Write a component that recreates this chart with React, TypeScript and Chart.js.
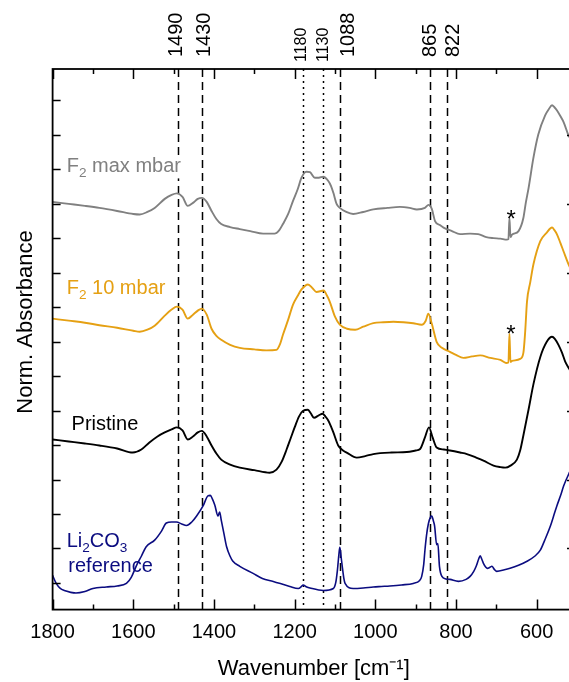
import React, { useEffect, useRef } from "react";
import { Chart, registerables } from "chart.js";

Chart.register(...registerables);

const FONT = "'Liberation Sans', Arial, Helvetica, sans-serif";

// ---------- data ----------
const grayWn = [1800, 1760, 1720, 1684, 1640, 1600, 1584, 1565, 1547, 1522, 1505, 1492, 1478, 1465, 1452, 1440, 1430, 1418, 1406, 1394, 1382, 1360, 1336, 1310, 1278, 1250, 1238, 1229, 1216, 1204, 1192, 1183, 1171, 1162, 1150, 1140, 1129, 1117, 1110, 1104, 1096, 1088, 1072, 1055, 1030, 1005, 970, 939, 915, 897, 877, 868, 860, 852, 840, 831, 810, 790, 765, 745, 725, 707, 690, 674, 670, 667.5, 665, 661, 645, 633, 627, 620, 608, 596, 579, 570, 562, 556, 550, 541, 533, 521, 505];
const grayVal = [4.05, 4.03, 4.01, 3.99, 3.96, 3.93, 3.925, 3.95, 3.99, 4.08, 4.12, 4.135, 4.10, 4.01, 4.04, 4.08, 4.09, 4.05, 3.96, 3.88, 3.83, 3.80, 3.78, 3.76, 3.735, 3.735, 3.77, 3.83, 3.93, 4.06, 4.18, 4.29, 4.35, 4.345, 4.29, 4.29, 4.30, 4.26, 4.21, 4.14, 4.03, 3.99, 3.95, 3.93, 3.95, 3.975, 3.99, 4.00, 3.99, 3.975, 3.99, 4.02, 3.98, 3.86, 3.82, 3.795, 3.76, 3.73, 3.735, 3.73, 3.70, 3.69, 3.685, 3.675, 3.68, 3.89, 3.70, 3.725, 3.76, 3.89, 4.04, 4.19, 4.49, 4.72, 4.91, 4.97, 5.01, 4.99, 4.96, 4.90, 4.84, 4.71, 4.60];

const orangeWn = [1800, 1760, 1720, 1684, 1640, 1600, 1584, 1565, 1547, 1522, 1505, 1492, 1478, 1465, 1452, 1440, 1430, 1418, 1406, 1394, 1382, 1360, 1336, 1300, 1270, 1245, 1236, 1229, 1216, 1204, 1192, 1183, 1167, 1155, 1146, 1128, 1120, 1113, 1100, 1088, 1070, 1050, 1030, 1005, 980, 955, 930, 906, 885, 875, 868.6, 860, 848, 835, 815, 800, 782, 760, 740, 715, 690, 676, 670, 667.5, 665, 661, 641, 633, 628.5, 624, 616, 608, 591, 575, 562, 556, 550, 541, 533.5, 521, 505];
const orangeVal = [2.89, 2.87, 2.85, 2.825, 2.80, 2.77, 2.76, 2.78, 2.82, 2.92, 2.98, 3.01, 2.98, 2.89, 2.93, 2.97, 2.99, 2.93, 2.79, 2.72, 2.68, 2.63, 2.60, 2.585, 2.575, 2.58, 2.64, 2.73, 2.88, 3.03, 3.12, 3.18, 3.23, 3.19, 3.155, 3.17, 3.12, 3.06, 2.91, 2.83, 2.79, 2.78, 2.81, 2.845, 2.855, 2.86, 2.855, 2.845, 2.83, 2.87, 2.94, 2.84, 2.66, 2.60, 2.56, 2.53, 2.50, 2.515, 2.525, 2.50, 2.48, 2.45, 2.455, 2.74, 2.46, 2.47, 2.49, 2.55, 2.76, 3.06, 3.25, 3.43, 3.66, 3.745, 3.795, 3.77, 3.73, 3.64, 3.56, 3.43, 3.30];

const blackWn = [1800, 1760, 1720, 1684, 1640, 1601, 1580, 1560, 1540, 1522, 1505, 1492, 1478, 1465, 1452, 1440, 1430, 1418, 1406, 1394, 1382, 1360, 1336, 1300, 1262, 1245, 1232, 1220, 1210, 1200, 1189, 1179, 1167, 1160, 1152, 1140, 1131, 1124, 1117, 1110, 1104, 1092, 1080, 1071, 1046, 1025, 1005, 960, 922, 900, 889, 877, 867, 858, 848, 830, 815, 790, 773, 750, 732, 707, 690, 678, 665, 649, 641, 633, 620, 608, 591, 575, 562, 555, 546, 537, 529, 519, 505];
const blackVal = [1.69, 1.67, 1.65, 1.63, 1.60, 1.56, 1.59, 1.66, 1.72, 1.76, 1.79, 1.81, 1.78, 1.69, 1.72, 1.76, 1.775, 1.72, 1.63, 1.55, 1.49, 1.44, 1.41, 1.385, 1.36, 1.39, 1.47, 1.59, 1.70, 1.81, 1.92, 1.975, 1.985, 1.95, 1.905, 1.93, 1.945, 1.92, 1.88, 1.82, 1.76, 1.63, 1.58, 1.56, 1.51, 1.525, 1.545, 1.56, 1.565, 1.58, 1.595, 1.71, 1.81, 1.71, 1.61, 1.59, 1.58, 1.56, 1.545, 1.51, 1.48, 1.43, 1.415, 1.41, 1.43, 1.49, 1.58, 1.73, 1.99, 2.24, 2.51, 2.66, 2.71, 2.69, 2.63, 2.55, 2.46, 2.39, 2.28];

const blueWn = [1800, 1791, 1781, 1771, 1742, 1720, 1700, 1667, 1640, 1617, 1605, 1593, 1580, 1568, 1547, 1530, 1518, 1505, 1493, 1480, 1468, 1455, 1443, 1427, 1415, 1409, 1404, 1398, 1390, 1386, 1382, 1375, 1369, 1360, 1353, 1336, 1303, 1280, 1253, 1212, 1191, 1183, 1179, 1170, 1162, 1129, 1104, 1098, 1094, 1090, 1088, 1085, 1082, 1078, 1075, 1055, 1030, 1005, 985, 964, 935, 906, 890, 885, 880, 877, 873, 868.6, 863, 860, 856, 853, 848, 845, 841, 835, 825, 815, 794, 775, 765, 756, 750, 744, 740, 736, 732, 726, 722, 716, 711, 705, 699, 680, 666, 645, 624, 605, 591, 580, 566, 558, 550, 541, 533, 519, 505];
const blueVal = [0.34, 0.26, 0.21, 0.19, 0.165, 0.18, 0.21, 0.225, 0.235, 0.26, 0.32, 0.43, 0.53, 0.625, 0.69, 0.78, 0.86, 0.87, 0.87, 0.85, 0.835, 0.87, 0.93, 1.03, 1.13, 1.135, 1.10, 1.04, 0.93, 0.97, 0.89, 0.75, 0.63, 0.53, 0.48, 0.43, 0.36, 0.31, 0.28, 0.23, 0.21, 0.23, 0.245, 0.225, 0.215, 0.19, 0.21, 0.27, 0.39, 0.56, 0.62, 0.53, 0.43, 0.31, 0.26, 0.21, 0.215, 0.225, 0.23, 0.235, 0.245, 0.26, 0.29, 0.33, 0.45, 0.59, 0.74, 0.85, 0.92, 0.93, 0.88, 0.83, 0.645, 0.655, 0.43, 0.33, 0.305, 0.30, 0.28, 0.30, 0.33, 0.38, 0.43, 0.50, 0.535, 0.50, 0.46, 0.42, 0.41, 0.42, 0.43, 0.40, 0.38, 0.395, 0.41, 0.44, 0.48, 0.53, 0.59, 0.69, 0.83, 0.93, 1.03, 1.13, 1.23, 1.36, 1.47];

// reference band positions (cm-1) and their labels
const refLines = [1490, 1430, 1180, 1130, 1088, 865, 822];
const refLabels = ["1490", "1430", "1180", "1130", "1088", "865", "822"];
const refDotted = [false, false, true, true, false, false, false];

// axis ticks
const xMajorTicks = [1800, 1600, 1400, 1200, 1000, 800, 600];
const xMinorTicks = [1700, 1500, 1300, 1100, 900, 700];
const yTickStart = 0.265;
const yTickStep = 0.3423;
const yTickCount = 15;

// ---------- layout / style ----------
const refLabelShift = [-2.6, 0.6, -2, -1, 7, -0.6, 5];
const GRAY = "#808080";
const ORANGE = "#E5A013";
const BLACK = "#000000";
const NAVY = "#0B0C80";

type Part = { t: string; sub?: boolean };

function drawRich(ctx: CanvasRenderingContext2D, parts: Part[], x: number, y: number, size: number, color: string, bg: boolean) {
  ctx.save();
  let w = 0;
  parts.forEach((p) => {
    ctx.font = `${p.sub ? size * 0.68 : size}px ${FONT}`;
    w += ctx.measureText(p.t).width;
  });
  if (bg) {
    ctx.fillStyle = "#ffffff";
    ctx.fillRect(x - 1, y - size * 0.8, w + 2, size * 1.1);
  }
  ctx.fillStyle = color;
  ctx.textBaseline = "alphabetic";
  ctx.textAlign = "left";
  let cx = x;
  parts.forEach((p) => {
    const s = p.sub ? size * 0.68 : size;
    ctx.font = `${s}px ${FONT}`;
    ctx.fillText(p.t, cx, p.sub ? y + size * 0.25 : y);
    cx += ctx.measureText(p.t).width;
  });
  ctx.restore();
}

const overlayPlugin = {
  id: "overlay",
  beforeDatasetsDraw(chart: any) {
    const { ctx, chartArea: a, scales } = chart;
    const x = scales.x;
    ctx.save();
    ctx.strokeStyle = "#000";
    ctx.lineWidth = 1.5;
    refLines.forEach((w, i) => {
      const px = Math.round(x.getPixelForValue(w)) + 0.5;
      ctx.setLineDash(refDotted[i] ? [2, 4] : [8, 5]);
      ctx.beginPath();
      ctx.moveTo(px, a.top);
      ctx.lineTo(px, a.bottom);
      ctx.stroke();
    });
    ctx.restore();
  },
  afterDatasetsDraw(chart: any) {
    const { ctx, chartArea: a, scales } = chart;
    const x = scales.x;
    const y = scales.y;
    ctx.save();

    // series labels
    drawRich(ctx, [{ t: "F" }, { t: "2", sub: true }, { t: " max mbar" }], x.getPixelForValue(1765), y.getPixelForValue(4.343), 20, GRAY, true);
    drawRich(ctx, [{ t: "F" }, { t: "2", sub: true }, { t: " 10 mbar" }], x.getPixelForValue(1765), y.getPixelForValue(3.133), 20, ORANGE, true);
    drawRich(ctx, [{ t: "Pristine" }], x.getPixelForValue(1753), y.getPixelForValue(1.787), 20, BLACK, false);
    drawRich(ctx, [{ t: "Li" }, { t: "2", sub: true }, { t: "CO" }, { t: "3", sub: true }], x.getPixelForValue(1765), y.getPixelForValue(0.62), 20, NAVY, false);
    drawRich(ctx, [{ t: "reference" }], x.getPixelForValue(1761), y.getPixelForValue(0.377), 20, NAVY, false);

    // asterisks marking artefacts
    ctx.fillStyle = "#000";
    ctx.font = `24px ${FONT}`;
    ctx.textAlign = "center";
    ctx.textBaseline = "alphabetic";
    ctx.fillText("*", x.getPixelForValue(663), y.getPixelForValue(3.805));
    ctx.fillText("*", x.getPixelForValue(664), y.getPixelForValue(2.655));

    // frame
    ctx.strokeStyle = "#000";
    ctx.lineWidth = 1.8;
    ctx.setLineDash([]);
    ctx.strokeRect(a.left, a.top, a.right - a.left, a.bottom - a.top);

    // x ticks (inward, top and bottom)
    ctx.lineWidth = 1.5;
    const xt = (w: number, len: number) => {
      const px = Math.round(x.getPixelForValue(w)) + 0.5;
      ctx.beginPath();
      ctx.moveTo(px, a.bottom);
      ctx.lineTo(px, a.bottom - len);
      ctx.moveTo(px, a.top);
      ctx.lineTo(px, a.top + len);
      ctx.stroke();
    };
    xMajorTicks.forEach((w) => xt(w, 10));
    xMinorTicks.forEach((w) => xt(w, 5));

    // y ticks (inward, left all, right every other)
    for (let k = 0; k < yTickCount; k++) {
      const py = Math.round(y.getPixelForValue(yTickStart + k * yTickStep)) + 0.5;
      ctx.beginPath();
      ctx.moveTo(a.left, py);
      ctx.lineTo(a.left + 8, py);
      if (k % 2 === 1) {
        ctx.moveTo(a.right, py);
        ctx.lineTo(a.right - 8, py);
      }
      ctx.stroke();
    }

    // band labels above the frame
    ctx.fillStyle = "#000";
    ctx.textAlign = "left";
    ctx.textBaseline = "alphabetic";
    refLines.forEach((w, i) => {
      const size = refDotted[i] ? 16 : 20;
      const bottom = refDotted[i] ? 62 : 57;
      const cx = x.getPixelForValue(w) + refLabelShift[i];
      ctx.save();
      ctx.font = `${size}px ${FONT}`;
      ctx.translate(cx + 0.358 * size, bottom);
      ctx.rotate(-Math.PI / 2);
      ctx.fillText(refLabels[i], 0, 0);
      ctx.restore();
    });

    // y title
    ctx.save();
    ctx.font = `22px ${FONT}`;
    ctx.textAlign = "center";
    ctx.translate(32, 322);
    ctx.rotate(-Math.PI / 2);
    ctx.fillText("Norm. Absorbance", 0, 0);
    ctx.restore();

    ctx.restore();
  },
};

const mk = (wn: number[], v: number[]) => wn.map((w, i) => ({ x: w, y: v[i] }));

export default function App() {
  const ref = useRef<HTMLCanvasElement | null>(null);
  useEffect(() => {
    if (!ref.current) return;
    const ds = (label: string, wn: number[], v: number[], color: string, width: number) => ({
      label,
      data: mk(wn, v),
      borderColor: color,
      backgroundColor: color,
      borderWidth: width,
      pointRadius: 0,
      fill: false,
      cubicInterpolationMode: "monotone" as const,
    });
    const chart = new Chart(ref.current, {
      type: "line",
      data: {
        datasets: [
          ds("F2 max mbar", grayWn, grayVal, GRAY, 1.9),
          ds("F2 10 mbar", orangeWn, orangeVal, ORANGE, 1.9),
          ds("Pristine", blackWn, blackVal, BLACK, 1.9),
          ds("Li2CO3 reference", blueWn, blueVal, NAVY, 1.6),
        ],
      },
      options: {
        animation: false,
        responsive: false,
        maintainAspectRatio: false,
        layout: { padding: { left: 52.6, right: 5, top: 69, bottom: 0 } },
        plugins: { legend: { display: false }, tooltip: { enabled: false } },
        scales: {
          x: {
            type: "linear",
            reverse: true,
            min: 505,
            max: 1800,
            afterBuildTicks: (s: any) => {
              s.ticks = xMajorTicks.map((v) => ({ value: v }));
            },
            grid: { display: false, drawTicks: false },
            border: { display: false },
            ticks: {
              font: { family: FONT, size: 20 },
              color: "#000",
              padding: 11,
              maxRotation: 0,
              autoSkip: false,
              callback: (v: any) => String(v),
            },
            title: {
              display: true,
              text: "Wavenumber [cm\u207B\u00B9]",
              font: { family: FONT, size: 22 },
              color: "#000",
              padding: { top: 0, bottom: 0 },
            },
          },
          y: { type: "linear", display: false, min: 0, max: 5.37 },
        },
      },
      plugins: [overlayPlugin],
    });
    return () => chart.destroy();
  }, []);
  return (
    <div style={{ position: "fixed", left: 0, top: 0, width: 569, height: 682, overflow: "hidden", background: "#fff" }}>
      <canvas ref={ref} width={580} height={682} style={{ display: "block", width: 580, height: 682 }} />
    </div>
  );
}
